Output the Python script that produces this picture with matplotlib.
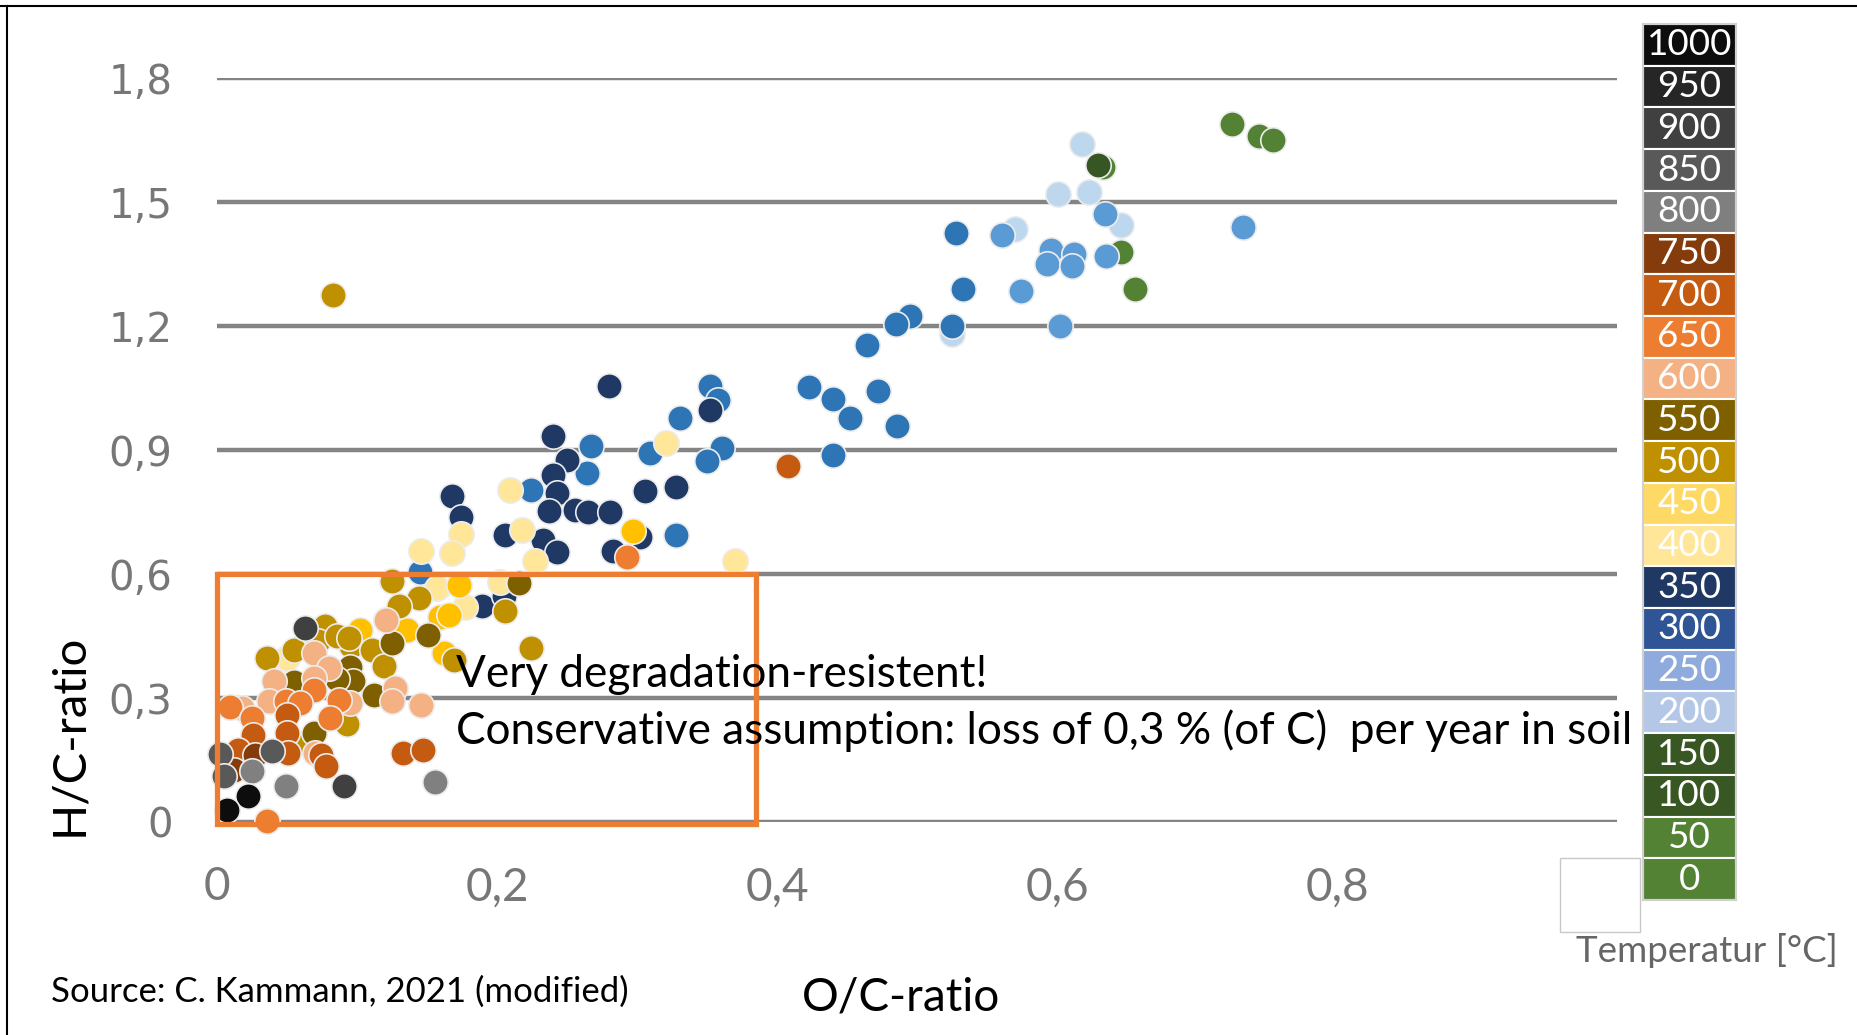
import matplotlib.pyplot as plt
import matplotlib.patches as patches
from matplotlib.lines import Line2D

plt.rcParams['font.family'] = ['Lato', 'DejaVu Sans']

# Temperature legend, top to bottom
temps = [1000, 950, 900, 850, 800, 750, 700, 650, 600, 550, 500,
         450, 400, 350, 300, 250, 200, 150, 100, 50, 0]
legend_colors = ['#0d0d0d', '#262626', '#404040', '#595959', '#7f7f7f',
                 '#843c0c', '#c55a11', '#ed7d31', '#f4b183', '#7f6000',
                 '#bf9000', '#ffd966', '#ffe699', '#203864', '#2f5597',
                 '#8faadc', '#b4c7e7', '#385723', '#385723', '#548235',
                 '#548235']

# O/C ratio (x) and H/C ratio (y), grouped by temperature
oc_0 = [0.725, 0.744, 0.754, 0.646, 0.656, 0.633]
hc_0 = [1.69, 1.66, 1.65, 1.38, 1.29, 1.585]
oc_150 = [0.629]
hc_150 = [1.59]
oc_200 = [0.618, 0.601, 0.623, 0.646, 0.570, 0.525]
hc_200 = [1.64, 1.52, 1.525, 1.445, 1.435, 1.18]
oc_250 = [0.634, 0.561, 0.596, 0.612, 0.593, 0.611, 0.635, 0.574, 0.602, 0.733]
hc_250 = [1.47, 1.42, 1.385, 1.375, 1.35, 1.345, 1.37, 1.285, 1.20, 1.44]
oc_300 = [0.528, 0.533, 0.495, 0.485, 0.525, 0.464, 0.423, 0.440, 0.452,
          0.472, 0.486, 0.440, 0.352, 0.358, 0.331, 0.309, 0.361, 0.350,
          0.328, 0.267, 0.264, 0.224, 0.145]
hc_300 = [1.425, 1.29, 1.225, 1.205, 1.20, 1.155, 1.052, 1.023, 0.977,
          1.043, 0.957, 0.888, 1.056, 1.022, 0.977, 0.893, 0.905, 0.874,
          0.695, 0.909, 0.844, 0.803, 0.604]
oc_350 = [0.280, 0.352, 0.306, 0.328, 0.302, 0.283, 0.240, 0.250, 0.240,
          0.243, 0.168, 0.174, 0.237, 0.256, 0.265, 0.281, 0.206, 0.233,
          0.243, 0.189, 0.205]
hc_350 = [1.054, 0.998, 0.802, 0.810, 0.690, 0.655, 0.933, 0.875, 0.839,
          0.796, 0.788, 0.738, 0.752, 0.754, 0.749, 0.749, 0.695, 0.683,
          0.653, 0.522, 0.546]
oc_400 = [0.321, 0.370, 0.209, 0.174, 0.168, 0.146, 0.218, 0.227, 0.157,
          0.177, 0.202, 0.050]
hc_400 = [0.917, 0.631, 0.803, 0.698, 0.650, 0.655, 0.707, 0.632, 0.566,
          0.520, 0.580, 0.397]
oc_450 = [0.297, 0.173, 0.159, 0.166, 0.136, 0.102, 0.162]
hc_450 = [0.703, 0.574, 0.496, 0.500, 0.465, 0.465, 0.409]
oc_500 = [0.083, 0.125, 0.144, 0.130, 0.206, 0.224, 0.169, 0.077, 0.072,
          0.096, 0.111, 0.036, 0.055, 0.119, 0.093, 0.063, 0.086, 0.094]
hc_500 = [1.275, 0.584, 0.542, 0.522, 0.510, 0.420, 0.391, 0.475, 0.437,
          0.425, 0.415, 0.397, 0.417, 0.377, 0.236, 0.191, 0.450, 0.446]
oc_550 = [0.216, 0.151, 0.125, 0.095, 0.097, 0.086, 0.055, 0.112, 0.069]
hc_550 = [0.578, 0.452, 0.433, 0.375, 0.341, 0.345, 0.338, 0.308, 0.215]
oc_600 = [0.121, 0.069, 0.080, 0.041, 0.069, 0.037, 0.095, 0.018, 0.127,
          0.125, 0.146, 0.070]
hc_600 = [0.489, 0.409, 0.373, 0.340, 0.348, 0.292, 0.288, 0.276, 0.324,
          0.292, 0.284, 0.167]
oc_650 = [0.293, 0.069, 0.049, 0.059, 0.087, 0.009, 0.025, 0.081, 0.036]
hc_650 = [0.641, 0.320, 0.292, 0.288, 0.296, 0.278, 0.252, 0.252, 0.002]
oc_700 = [0.408, 0.050, 0.026, 0.050, 0.015, 0.051, 0.074, 0.078, 0.133, 0.147]
hc_700 = [0.862, 0.260, 0.211, 0.215, 0.175, 0.167, 0.163, 0.135, 0.167, 0.175]
oc_750 = [0.027, 0.012]
hc_750 = [0.163, 0.127]
oc_800 = [0.025, 0.049, 0.156]
hc_800 = [0.123, 0.086, 0.096]
oc_850 = [0.002, 0.005, 0.039]
hc_850 = [0.165, 0.111, 0.171]
oc_900 = [0.063, 0.091]
hc_900 = [0.469, 0.086]
oc_1000 = [0.022, 0.007]
hc_1000 = [0.062, 0.030]

series = [
    (oc_0, hc_0, '#548235'),
    (oc_150, hc_150, '#375623'),
    (oc_200, hc_200, '#bdd7ee'),
    (oc_250, hc_250, '#5b9bd5'),
    (oc_300, hc_300, '#2e75b6'),
    (oc_350, hc_350, '#203864'),
    (oc_400, hc_400, '#ffe699'),
    (oc_450, hc_450, '#ffc000'),
    (oc_500, hc_500, '#bf9000'),
    (oc_550, hc_550, '#7f6000'),
    (oc_600, hc_600, '#f4b183'),
    (oc_650, hc_650, '#ed7d31'),
    (oc_700, hc_700, '#c55a11'),
    (oc_750, hc_750, '#843c0c'),
    (oc_800, hc_800, '#808080'),
    (oc_850, hc_850, '#595959'),
    (oc_900, hc_900, '#404040'),
    (oc_1000, hc_1000, '#0d0d0d'),
]

x_ticks = [0, 0.2, 0.4, 0.6, 0.8]
x_labels = ['0', '0,2', '0,4', '0,6', '0,8']
y_ticks = [0, 0.3, 0.6, 0.9, 1.2, 1.5, 1.8]
y_labels = ['0', '0,3', '0,6', '0,9', '1,2', '1,5', '1,8']

fig = plt.figure(figsize=(18.58, 10.35), dpi=100)
ax = fig.add_axes([0.1168, 0.2058, 0.7535, 0.7188])

for oc, hc, col in series:
    ax.scatter(oc, hc, s=335, color=col, edgecolors='#ececec',
               linewidths=1.2, zorder=3, clip_on=False)

ax.set_xlim(0, 1.0)
ax.set_ylim(0, 1.8)
ax.set_xticks(x_ticks)
ax.set_xticklabels(x_labels, fontsize=33, color='#777777')
ax.set_yticks(y_ticks)
ax.set_yticklabels(y_labels, fontsize=29, color='#777777', family='DejaVu Sans')
ax.tick_params(axis='x', length=0, pad=32)
ax.tick_params(axis='y', length=0, pad=32)
ax.yaxis.grid(True, color='#848484', linewidth=3.2)
ax.set_axisbelow(True)
for s in ax.spines.values():
    s.set_visible(False)

# Highlighted region: very degradation-resistant biochar
box = patches.Rectangle((0, -0.006), 0.385, 0.606, fill=False,
                        edgecolor='#ed7d31', linewidth=3.8, zorder=5, clip_on=False)
ax.add_patch(box)

fig.text(0.2454, 0.3362, 'Very degradation-resistent!', fontsize=31.8, zorder=6)
fig.text(0.2454, 0.2812,
         'Conservative assumption: loss of 0,3 % (of C)  per year in soil',
         fontsize=31.8, zorder=6)

# Axis titles and source
fig.text(0.4847, 0.0232, 'O/C-ratio', fontsize=33, ha='center')
fig.text(0.0371, 0.29, 'H/C-ratio', fontsize=34, rotation=90,
         ha='center', va='center')
fig.text(0.0275, 0.0319, 'Source: C. Kammann, 2021 (modified)', fontsize=25)

# Temperature colour legend
ax_cb = fig.add_axes([0.8843, 0.1304, 0.0500, 0.8464])
ax_cb.barh(range(len(temps)), 1, height=1, align='edge',
           color=legend_colors, edgecolor='white', linewidth=1.5)
for i, t in enumerate(temps):
    ax_cb.text(0.5, i + 0.5, str(t), color='white', fontsize=26.5,
               ha='center', va='center')
ax_cb.set_xlim(0, 1)
ax_cb.set_ylim(len(temps), 0)
ax_cb.set_xticks([])
ax_cb.set_yticks([])
for s in ax_cb.spines.values():
    s.set_color('#d0d0d0')
    s.set_linewidth(1.5)

fig.text(0.848, 0.0812, 'Temperatur [°C]', fontsize=26.5, color='#666666',
         va='center')
# leftover empty legend frame covering the top of the label
fig.patches.append(patches.Rectangle((0.8396, 0.0995), 0.0431, 0.0715,
                                     transform=fig.transFigure,
                                     facecolor='white', edgecolor='#c8c8c8',
                                     linewidth=1, zorder=10))

# slide frame (top and left edges)
fig.add_artist(Line2D([0, 1], [0.9942, 0.9942], color='black', linewidth=1.5))
fig.add_artist(Line2D([0.0038, 0.0038], [0, 0.9942], color='black', linewidth=1.5))

fig.savefig('out.png', dpi=100)
